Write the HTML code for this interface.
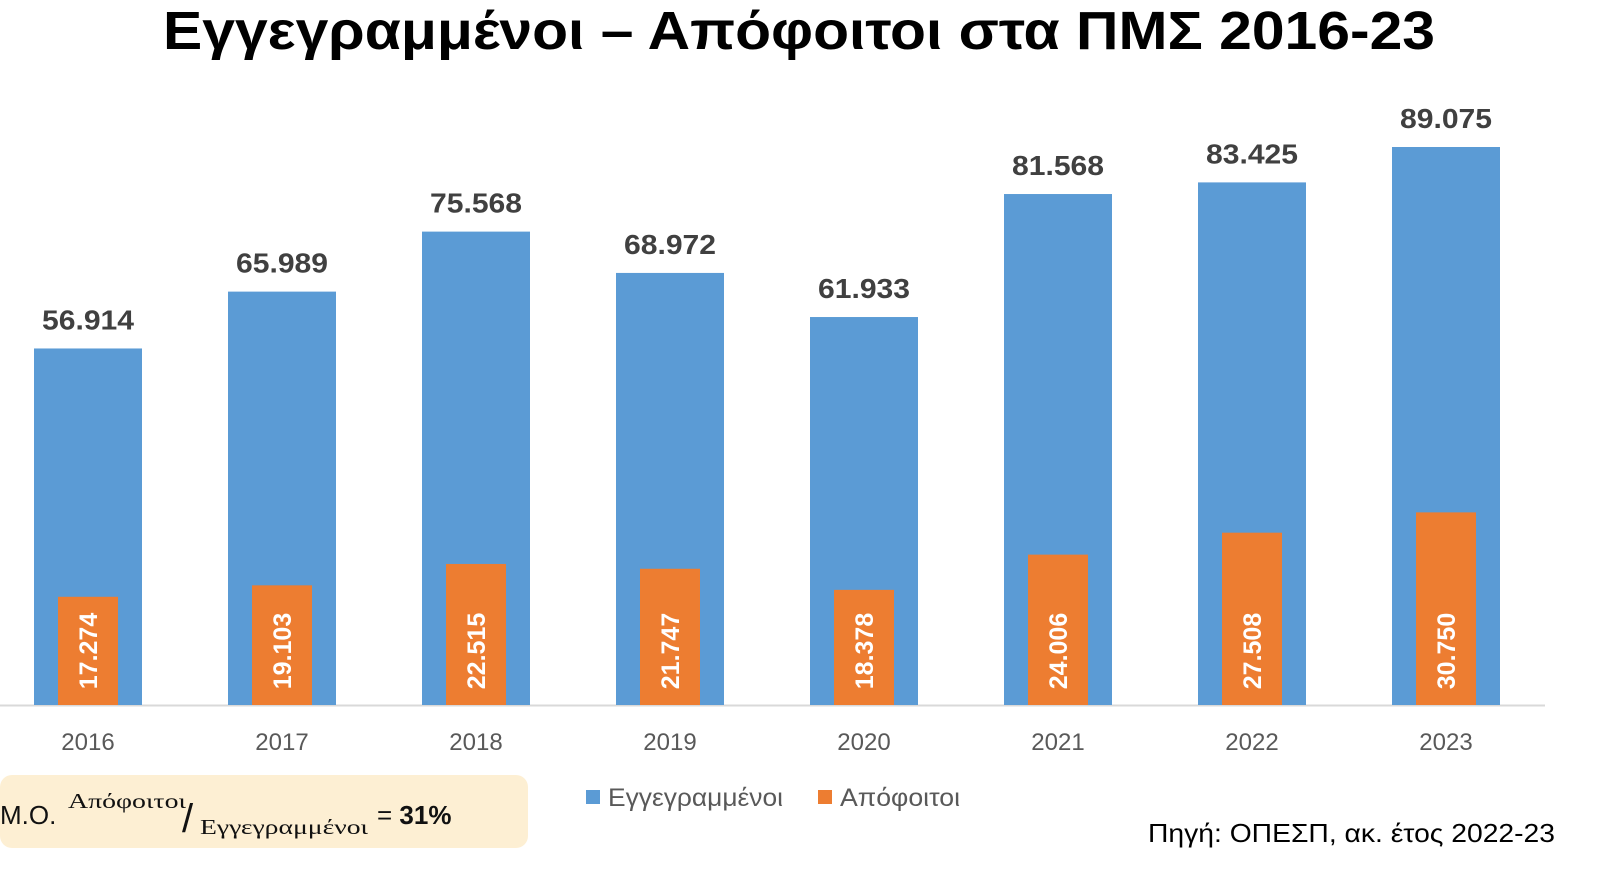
<!DOCTYPE html>
<html><head><meta charset="utf-8"><style>
html,body{margin:0;padding:0;background:#fff;}
body{width:1600px;height:876px;overflow:hidden;}
</style></head><body>
<svg width="1600" height="876" xmlns="http://www.w3.org/2000/svg" font-family="Liberation Sans, DejaVu Sans, sans-serif">
<rect width="1600" height="876" fill="#fff"/>
<text x="163" y="49" textLength="1272" lengthAdjust="spacingAndGlyphs" font-size="54" font-weight="bold" fill="#000">Εγγεγραμμένοι – Απόφοιτοι στα ΠΜΣ 2016-23</text>
<line x1="0" y1="705.5" x2="1545" y2="705.5" stroke="#d9d9d9" stroke-width="2"/>
<g id="bars"></g>
<rect x="0" y="775" width="528" height="73" rx="12" fill="#fdefd3"/>
<text x="0" y="824" font-size="26" fill="#111">Μ.Ο.</text>
<text x="68" y="808" textLength="118" lengthAdjust="spacingAndGlyphs" font-size="21" fill="#111" font-family="Liberation Serif, serif">Απόφοιτοι</text>
<text x="182" y="832" font-size="40" fill="#111">/</text>
<text x="200" y="834" textLength="168" lengthAdjust="spacingAndGlyphs" font-size="21" fill="#111" font-family="Liberation Serif, serif">Εγγεγραμμένοι</text>
<text x="377" y="824" font-size="26" fill="#111">= <tspan font-weight="bold">31%</tspan></text>
<rect x="586" y="790" width="14" height="14" fill="#5b9bd5"/>
<text x="608" y="806" textLength="175" lengthAdjust="spacingAndGlyphs" font-size="25" fill="#595959">Εγγεγραμμένοι</text>
<rect x="818" y="790" width="14" height="14" fill="#ed7d31"/>
<text x="840" y="806" textLength="120" lengthAdjust="spacingAndGlyphs" font-size="25" fill="#595959">Απόφοιτοι</text>
<text x="1148" y="842" textLength="407" lengthAdjust="spacingAndGlyphs" font-size="26" fill="#000">Πηγή: ΟΠΕΣΠ, ακ. έτος 2022-23</text>
</svg>
<script>
var e=[56914,65989,75568,68972,61933,81568,83425,89075],a=[17274,19103,22515,21747,18378,24006,27508,30750];
var g=document.getElementById('bars'),s='',k=558/89075,B=705;
function f(v){var t=String(v);return t.slice(0,t.length-3)+'.'+t.slice(-3);}
for(var i=0;i<8;i++){var c=88+194*i,h=e[i]*k,h2=a[i]*k;
s+='<rect x="'+(c-54)+'" y="'+(B-h)+'" width="108" height="'+h+'" fill="#5b9bd5"/>';
s+='<text x="'+(c-46)+'" y="'+(B-h-19)+'" textLength="92" lengthAdjust="spacingAndGlyphs" font-size="28" font-weight="bold" fill="#404040">'+f(e[i])+'</text>';
s+='<rect x="'+(c-30)+'" y="'+(B-h2)+'" width="60" height="'+h2+'" fill="#ed7d31"/>';
s+='<text transform="translate('+(c+9)+',651) rotate(-90)" text-anchor="middle" font-size="25" font-weight="bold" fill="#fff">'+f(a[i])+'</text>';
s+='<text x="'+c+'" y="750" text-anchor="middle" font-size="24" fill="#595959">'+(2016+i)+'</text>';}
g.innerHTML=s;
</script>
</body></html>
